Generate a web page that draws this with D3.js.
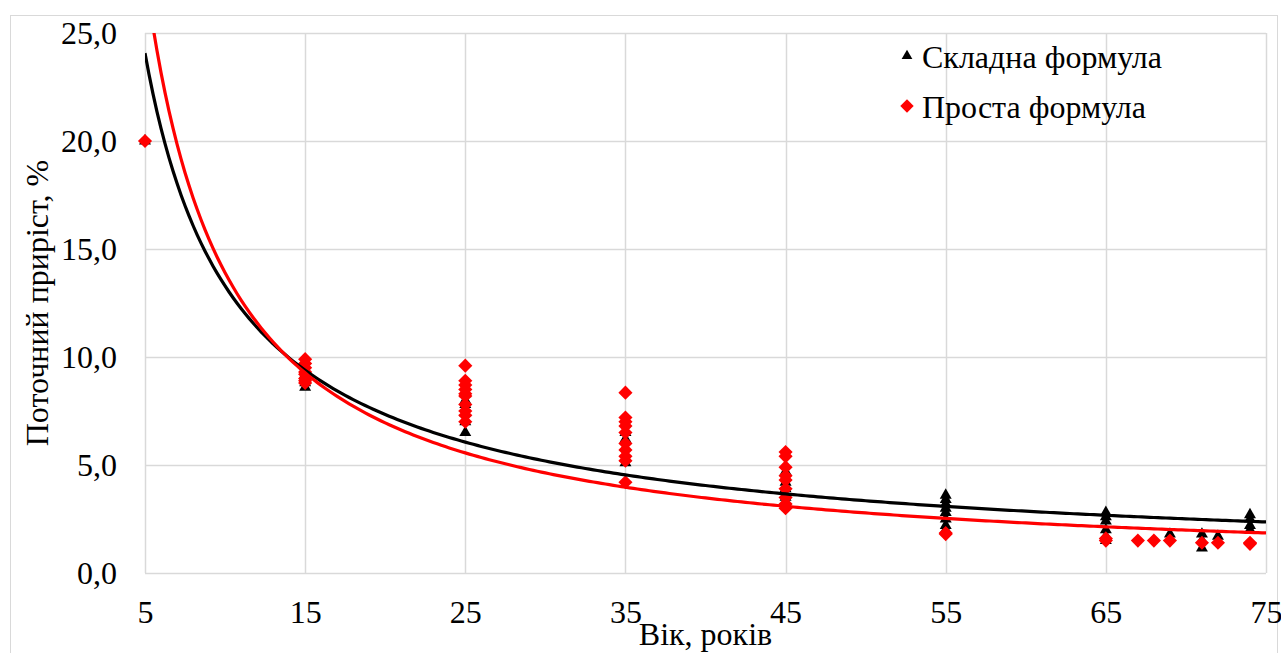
<!DOCTYPE html>
<html>
<head>
<meta charset="utf-8">
<script src="https://cdn.jsdelivr.net/npm/d3@7"></script>
<style>
  body { margin: 0; background: #fff; }
</style>
</head>
<body>
<svg id="chart" width="1281" height="653"></svg>
<script>
// ages and values (% current increment)
const complexAge = [5, 15, 15, 15, 15, 25, 25, 25, 25, 25, 25, 35, 35, 35, 35, 45, 45, 45, 45, 45,
  55, 55, 55, 55, 55, 55, 55, 55, 65, 65, 65, 65, 65, 65, 69, 71, 71, 71, 72, 74, 74, 74, 74];
const complexVal = [20.0, 8.6, 8.8, 9.0, 9.2, 6.5, 7.0, 7.4, 7.8, 8.0, 8.3, 5.1, 5.3, 6.2, 6.5, 4.7, 4.2, 3.9, 3.5, 3.3,
  3.6, 3.4, 3.2, 3.0, 2.8, 2.5, 2.2, 2.0, 2.8, 2.6, 2.4, 2.0, 1.7, 1.5, 1.8, 1.8, 1.5, 1.15, 1.7, 2.7, 2.5, 2.2, 2.0];

const simpleAge = [5, 15, 15, 15, 15, 15, 15, 15, 15, 25, 25, 25, 25, 25, 25, 25, 25, 25, 25,
  35, 35, 35, 35, 35, 35, 35, 35, 35, 35, 45, 45, 45, 45, 45, 45, 45, 45, 45,
  55, 55, 65, 65, 67, 68, 69, 71, 72, 74, 74];
const simpleVal = [20.0, 9.9, 9.7, 9.5, 9.3, 9.2, 9.0, 8.9, 8.8, 9.6, 8.9, 8.7, 8.5, 8.3, 8.2, 7.8, 7.5, 7.3, 7.0,
  8.35, 7.2, 7.0, 6.8, 6.5, 6.0, 5.7, 5.4, 5.2, 4.2, 5.6, 5.4, 4.9, 4.5, 4.3, 3.9, 3.5, 3.2, 3.0,
  1.8, 1.85, 1.5, 1.6, 1.5, 1.5, 1.5, 1.4, 1.4, 1.35, 1.4];

// power trendlines y = a * x^b
const trendA = [95.6, 139];
const trendB = [-0.857, -1.0];

const seriesNames = ["Складна формула", "Проста формула"];
const seriesColors = ["#000000", "#ff0000"];

const xTicks = [5, 15, 25, 35, 45, 55, 65, 75];
const yTicks = [0, 5, 10, 15, 20, 25];

const FONT = "'Liberation Serif', 'Times New Roman', 'DejaVu Serif', serif";

const svg = d3.select("#chart").attr("font-family", FONT);
const margin = {left: 145, top: 33, right: 1266, bottom: 573};
const fmt = d => d.toFixed(1).replace(".", ",");

const x = d3.scaleLinear().domain([5, 75]).range([margin.left, margin.right]);
const y = d3.scaleLinear().domain([0, 25]).range([margin.bottom, margin.top]);

// outer chart frame
svg.append("rect")
    .attr("x", 10.5).attr("y", 15.5)
    .attr("width", 1267).attr("height", 650)
    .attr("fill", "none")
    .attr("stroke", "#d9d9d9");

svg.append("defs").append("clipPath").attr("id", "plot")
  .append("rect")
    .attr("x", margin.left).attr("y", margin.top)
    .attr("width", margin.right - margin.left)
    .attr("height", margin.bottom - margin.top);

// grid
const grid = svg.append("g").attr("stroke", "#d9d9d9").attr("stroke-width", 1.5);
grid.selectAll("line.h")
  .data(yTicks)
  .enter().append("line")
    .attr("x1", margin.left).attr("x2", margin.right)
    .attr("y1", d => Math.round(y(d)) + 0.5)
    .attr("y2", d => Math.round(y(d)) + 0.5);
grid.selectAll("line.v")
  .data(xTicks)
  .enter().append("line")
    .attr("y1", margin.top).attr("y2", margin.bottom)
    .attr("x1", d => Math.round(x(d)) + 0.5)
    .attr("x2", d => Math.round(x(d)) + 0.5);

// axes (labels only)
const yAxis = svg.append("g")
    .attr("transform", `translate(${margin.left},0)`)
    .call(d3.axisLeft(y).tickValues(yTicks).tickFormat(fmt).tickSize(0).tickPadding(28));
const xAxis = svg.append("g")
    .attr("transform", `translate(0,${margin.bottom})`)
    .call(d3.axisBottom(x).tickValues(xTicks).tickSize(0).tickPadding(27));
[xAxis, yAxis].forEach(a => {
  a.attr("font-family", FONT).attr("font-size", 32);
  a.select(".domain").remove();
  a.selectAll("text").attr("fill", "#000");
});

// axis titles
svg.append("text")
    .attr("x", (margin.left + margin.right) / 2)
    .attr("y", 645)
    .attr("text-anchor", "middle")
    .attr("font-family", FONT)
    .attr("font-size", 32)
    .text("Вік, років");
svg.append("text")
    .attr("transform", `translate(48,${(margin.top + margin.bottom) / 2}) rotate(-90)`)
    .attr("text-anchor", "middle")
    .attr("font-family", FONT)
    .attr("font-size", 32)
    .text("Поточний приріст, %");

// markers
const triangle = d3.symbol().type(d3.symbolTriangle).size(62);
const diamond = d3.symbol().type(d3.symbolSquare).size(100);

svg.append("g")
  .selectAll("path")
  .data(complexAge.map((a, i) => [a, complexVal[i]]))
  .enter().append("path")
    .attr("d", triangle)
    .attr("transform", d => `translate(${x(d[0])},${y(d[1])})`)
    .attr("fill", seriesColors[0]);

svg.append("g")
  .selectAll("path")
  .data(simpleAge.map((a, i) => [a, simpleVal[i]]))
  .enter().append("path")
    .attr("d", diamond)
    .attr("transform", d => `translate(${x(d[0])},${y(d[1])}) rotate(45)`)
    .attr("fill", seriesColors[1]);

// trendlines
const curveX = d3.range(5, 75.01, 0.25);
const line = d3.line().x(d => x(d[0])).y(d => y(d[1]));
const trends = svg.append("g").attr("clip-path", "url(#plot)");
trendA.forEach((a, k) => {
  trends.append("path")
      .datum(curveX.map(v => [v, a * Math.pow(v, trendB[k])]))
      .attr("d", line)
      .attr("fill", "none")
      .attr("stroke", seriesColors[k])
      .attr("stroke-width", 3.2);
});

// legend
const legend = svg.append("g");
const items = legend.selectAll("g")
  .data(seriesNames)
  .enter().append("g")
    .attr("transform", (d, i) => `translate(907,${56 + i * 50})`);
items.append("path")
    .attr("d", (d, i) => i === 0
      ? d3.symbol().type(d3.symbolTriangle).size(50)()
      : d3.symbol().type(d3.symbolSquare).size(90)())
    .attr("transform", (d, i) => i === 0 ? "" : "rotate(45)")
    .attr("fill", (d, i) => seriesColors[i]);
items.append("text")
    .attr("x", 15)
    .attr("y", 12)
    .attr("font-family", FONT)
    .attr("font-size", 32)
    .text(d => d);
</script>
</body>
</html>
